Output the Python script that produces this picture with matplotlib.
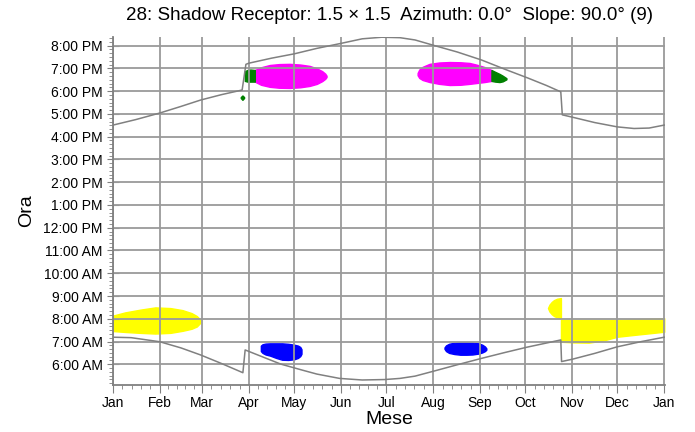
import matplotlib
matplotlib.use('Agg')
import matplotlib.pyplot as plt
from matplotlib.ticker import FixedLocator, MultipleLocator, FuncFormatter

plt.rcParams['font.family'] = ['Liberation Sans', 'DejaVu Sans']

# month starts (day of year) and labels
month_days = [0, 31, 59, 90, 120, 151, 181, 212, 243, 273, 304, 334, 365]
month_labels = ['Jan', 'Feb', 'Mar', 'Apr', 'May', 'Jun', 'Jul',
                'Aug', 'Sep', 'Oct', 'Nov', 'Dec', 'Jan']

# sunrise curve (hours)
sunrise_days = [0, 12, 31, 45, 58, 72, 86, 87.5, 100, 111, 125, 135, 150, 165, 180,
                190, 200, 213, 228, 244, 259, 274, 286, 296.5, 297, 304, 319, 334, 350, 365]
sunrise_hours = [7.19, 7.17, 6.99, 6.72, 6.41, 6.03, 5.63, 6.63, 6.30, 6.01, 5.75, 5.57, 5.38, 5.31, 5.33,
                 5.38, 5.48, 5.71, 5.98, 6.26, 6.51, 6.75, 6.92, 7.07, 6.12, 6.22, 6.48, 6.77, 7.00, 7.19]

# sunset curve (hours)
sunset_days = [0, 15, 31, 45, 58, 72, 85.5, 88, 90, 105, 120, 135, 151, 165, 178, 190, 200,
               213, 228, 244, 260, 275, 287, 296.5, 297.5, 304, 319, 334, 345, 355, 365]
sunset_hours = [16.51, 16.75, 17.04, 17.33, 17.61, 17.85, 18.05, 19.18, 19.23, 19.45, 19.64, 19.88, 20.10,
                20.30, 20.37, 20.35, 20.25, 20.00, 19.72, 19.37, 18.95, 18.57, 18.25, 17.97,
                16.96, 16.86, 16.62, 16.43, 16.36, 16.38, 16.51]

# shadow periods: day, upper hour, lower hour
yellow1_days = [0, 8, 18, 28, 38, 46, 52, 55.5, 57.5]
yellow1_top = [8.14, 8.28, 8.40, 8.50, 8.47, 8.38, 8.25, 8.12, 7.98]
yellow1_bot = [7.46, 7.42, 7.38, 7.35, 7.38, 7.47, 7.56, 7.66, 7.80]

yellow2_days = [288, 289, 290.5, 292, 294, 296.6]
yellow2_top = [8.47, 8.62, 8.74, 8.82, 8.88, 8.91]
yellow2_bot = [8.47, 8.32, 8.20, 8.12, 8.06, 8.03]

yellow3_days = [296.6, 305, 315, 325, 334, 345, 355, 365]
yellow3_top = [7.95, 7.95, 7.95, 7.95, 7.95, 7.98, 8.00, 8.02]
yellow3_bot = [6.99, 6.96, 6.95, 7.05, 7.21, 7.29, 7.36, 7.43]

blue1_days = [97.9, 99, 101, 104, 108, 112, 116, 120, 122.5, 124, 124.8]
blue1_top = [6.82, 6.88, 6.91, 6.92, 6.92, 6.92, 6.90, 6.86, 6.82, 6.76, 6.66]
blue1_bot = [6.58, 6.50, 6.43, 6.38, 6.28, 6.20, 6.19, 6.22, 6.28, 6.36, 6.46]

blue2_days = [219.5, 220.5, 222.5, 226, 230, 234, 238, 242, 244.5, 246.3, 247.2]
blue2_top = [6.74, 6.83, 6.90, 6.95, 6.97, 6.97, 6.96, 6.92, 6.86, 6.78, 6.70]
blue2_bot = [6.68, 6.58, 6.50, 6.45, 6.42, 6.42, 6.43, 6.47, 6.52, 6.58, 6.64]

magenta1_days = [93.9, 98, 103.8, 110, 117, 124, 130.2, 135, 138.5, 140.5, 141.4]
magenta1_top = [18.93, 19.05, 19.15, 19.19, 19.20, 19.17, 19.11, 19.00, 18.88, 18.77, 18.68]
magenta1_bot = [18.42, 18.28, 18.19, 18.15, 18.14, 18.17, 18.23, 18.32, 18.44, 18.54, 18.62]

magenta2_days = [201.7, 202.8, 205, 209.6, 216, 222.9, 230, 236.1, 241, 246, 250.6]
magenta2_top = [18.80, 18.95, 19.07, 19.20, 19.26, 19.28, 19.27, 19.24, 19.16, 19.06, 18.93]
magenta2_bot = [18.70, 18.58, 18.49, 18.40, 18.32, 18.27, 18.28, 18.32, 18.36, 18.40, 18.45]

green1_days = [87.3, 89, 91, 93.9]
green1_top = [18.88, 18.93, 18.95, 18.93]
green1_bot = [18.45, 18.42, 18.42, 18.42]

green2_days = [84.6, 85.7, 86.8]
green2_top = [17.74, 17.81, 17.74]
green2_bot = [17.70, 17.62, 17.70]

green3_days = [250.6, 253, 255.9, 258, 260.5]
green3_top = [18.93, 18.85, 18.76, 18.68, 18.57]
green3_bot = [18.45, 18.42, 18.40, 18.43, 18.52]

hour_ticks = list(range(6, 21))


def hour_label(h, pos):
    h = int(round(h))
    suffix = 'AM' if h < 12 else 'PM'
    h12 = h % 12
    if h12 == 0:
        h12 = 12
    return '%d:00 %s' % (h12, suffix)


fig = plt.figure(figsize=(6.95, 4.32), dpi=100)
ax = fig.add_axes([113 / 695, 1 - 385 / 432, 552 / 695, 348 / 432])

blobs = [
    (yellow1_days, yellow1_top, yellow1_bot, '#ffff00'),
    (yellow2_days, yellow2_top, yellow2_bot, '#ffff00'),
    (yellow3_days, yellow3_top, yellow3_bot, '#ffff00'),
    (blue1_days, blue1_top, blue1_bot, '#0000ff'),
    (blue2_days, blue2_top, blue2_bot, '#0000ff'),
    (magenta1_days, magenta1_top, magenta1_bot, '#ff00ff'),
    (magenta2_days, magenta2_top, magenta2_bot, '#ff00ff'),
    (green1_days, green1_top, green1_bot, '#008000'),
    (green2_days, green2_top, green2_bot, '#008000'),
    (green3_days, green3_top, green3_bot, '#008000'),
]
for d, top, bot, c in blobs:
    ax.fill_between(d, bot, top, color=c, linewidth=1.0, edgecolor=c, zorder=1)

ax.plot(sunrise_days, sunrise_hours, color='#808080', lw=1.1, zorder=3)
ax.plot(sunset_days, sunset_hours, color='#808080', lw=1.1, zorder=3)

ax.set_xlim(0, 365.5)
ax.set_ylim(5.09, 20.38)

# grid
for d in month_days:
    ax.axvline(d, color='#9a9a9a', lw=1.3, zorder=2)
for h in hour_ticks:
    ax.axhline(h, color='#9a9a9a', lw=1.3, zorder=2)

ax.xaxis.set_major_locator(FixedLocator(month_days))
ax.set_xticklabels(month_labels)
minor_x = []
for a, b in zip(month_days[:-1], month_days[1:]):
    minor_x += [a + (b - a) * k / 5 for k in range(1, 5)]
ax.xaxis.set_minor_locator(FixedLocator(minor_x))

ax.yaxis.set_major_locator(FixedLocator(hour_ticks))
ax.yaxis.set_major_formatter(FuncFormatter(hour_label))
ax.yaxis.set_minor_locator(MultipleLocator(1 / 6))

for s in ['top', 'right']:
    ax.spines[s].set_visible(False)
for s in ['left', 'bottom']:
    ax.spines[s].set_color('#808080')
    ax.spines[s].set_linewidth(1.3)

ax.tick_params(axis='y', which='major', direction='inout', length=8, color='#808080', labelsize=10)
ax.tick_params(axis='y', which='minor', direction='out', length=3, color='#808080')
ax.tick_params(axis='x', which='major', direction='out', length=6, color='#808080', labelsize=10, pad=2)
ax.tick_params(axis='x', which='minor', direction='out', length=3, color='#808080')

ax.set_xlabel('Mese', fontsize=14, labelpad=1)
ax.set_ylabel('Ora', fontsize=14, labelpad=6)
fig.text(389 / 695, 1 - 16 / 432,
         '28: Shadow Receptor: 1.5 \u00d7 1.5  Azimuth: 0.0\u00b0  Slope: 90.0\u00b0 (9)',
         ha='center', va='center', fontsize=13.5)

fig.savefig('out.png', dpi=100)
